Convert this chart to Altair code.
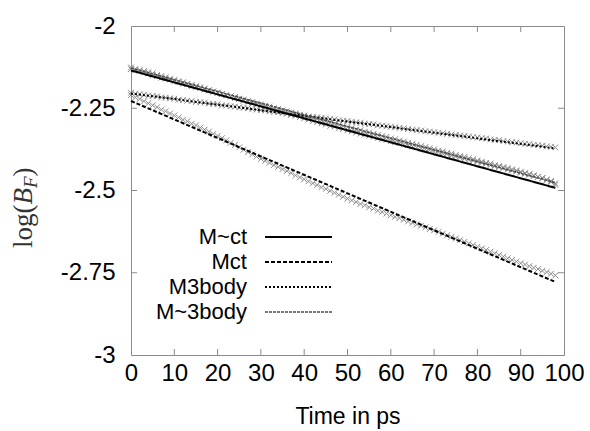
import altair as alt
import pandas as pd

# ---- data -------------------------------------------------------------
time_ps = list(range(99))

mtct_pts = [
    -2.131, -2.134, -2.136, -2.141, -2.143, -2.150, -2.152, -2.157, -2.160, -2.163,
    -2.168, -2.170, -2.175, -2.177, -2.183, -2.185, -2.188, -2.193, -2.196, -2.200,
    -2.203, -2.207, -2.210, -2.214, -2.216, -2.221, -2.224, -2.228, -2.231, -2.236,
    -2.238, -2.242, -2.245, -2.250, -2.252, -2.256, -2.259, -2.263, -2.266, -2.270,
    -2.273, -2.278, -2.280, -2.283, -2.288, -2.290, -2.294, -2.297, -2.301, -2.304,
    -2.308, -2.311, -2.315, -2.317, -2.322, -2.324, -2.328, -2.331, -2.335, -2.337,
    -2.342, -2.344, -2.349, -2.351, -2.355, -2.358, -2.361, -2.365, -2.368, -2.372,
    -2.375, -2.379, -2.381, -2.386, -2.388, -2.392, -2.395, -2.398, -2.402, -2.405,
    -2.409, -2.412, -2.416, -2.418, -2.423, -2.425, -2.429, -2.432, -2.436, -2.439,
    -2.443, -2.447, -2.450, -2.454, -2.458, -2.462, -2.468, -2.474, -2.483,
]

mct_pts = [
    -2.210, -2.217, -2.222, -2.229, -2.235, -2.241, -2.247, -2.254, -2.259, -2.266,
    -2.272, -2.278, -2.285, -2.290, -2.297, -2.302, -2.309, -2.315, -2.321, -2.328,
    -2.334, -2.341, -2.348, -2.355, -2.362, -2.369, -2.376, -2.383, -2.390, -2.397,
    -2.404, -2.410, -2.416, -2.423, -2.428, -2.435, -2.441, -2.447, -2.454, -2.460,
    -2.466, -2.472, -2.478, -2.483, -2.490, -2.495, -2.501, -2.507, -2.513, -2.519,
    -2.525, -2.530, -2.535, -2.541, -2.545, -2.551, -2.555, -2.561, -2.565, -2.570,
    -2.575, -2.580, -2.584, -2.589, -2.594, -2.598, -2.603, -2.607, -2.612, -2.617,
    -2.621, -2.626, -2.631, -2.636, -2.641, -2.646, -2.651, -2.656, -2.661, -2.666,
    -2.671, -2.676, -2.681, -2.686, -2.691, -2.696, -2.701, -2.706, -2.711, -2.716,
    -2.721, -2.725, -2.730, -2.735, -2.739, -2.744, -2.748, -2.753, -2.758,
]

m3body_pts = [
    -2.203, -2.206, -2.207, -2.209, -2.212, -2.213, -2.214, -2.217, -2.218, -2.220,
    -2.221, -2.224, -2.225, -2.227, -2.228, -2.231, -2.232, -2.233, -2.236, -2.237,
    -2.238, -2.241, -2.242, -2.244, -2.245, -2.247, -2.249, -2.250, -2.253, -2.254,
    -2.256, -2.257, -2.259, -2.261, -2.262, -2.265, -2.266, -2.267, -2.270, -2.271,
    -2.272, -2.275, -2.276, -2.278, -2.279, -2.281, -2.283, -2.284, -2.287, -2.288,
    -2.289, -2.291, -2.293, -2.294, -2.297, -2.298, -2.299, -2.302, -2.303, -2.305,
    -2.306, -2.308, -2.310, -2.311, -2.313, -2.315, -2.316, -2.318, -2.320, -2.321,
    -2.323, -2.325, -2.326, -2.328, -2.330, -2.331, -2.333, -2.334, -2.336, -2.338,
    -2.339, -2.341, -2.342, -2.345, -2.346, -2.347, -2.350, -2.351, -2.353, -2.354,
    -2.356, -2.358, -2.359, -2.361, -2.362, -2.364, -2.366, -2.367, -2.369,
]

mt3body_pts = [
    -2.126, -2.131, -2.134, -2.137, -2.141, -2.144, -2.149, -2.152, -2.156, -2.160,
    -2.164, -2.168, -2.171, -2.176, -2.179, -2.183, -2.187, -2.190, -2.195, -2.199,
    -2.203, -2.206, -2.211, -2.214, -2.219, -2.222, -2.227, -2.230, -2.235, -2.239,
    -2.243, -2.246, -2.251, -2.254, -2.259, -2.262, -2.266, -2.270, -2.273, -2.277,
    -2.281, -2.284, -2.289, -2.292, -2.296, -2.299, -2.304, -2.306, -2.311, -2.313,
    -2.317, -2.320, -2.324, -2.327, -2.330, -2.334, -2.337, -2.340, -2.344, -2.346,
    -2.350, -2.353, -2.356, -2.360, -2.362, -2.366, -2.369, -2.372, -2.375, -2.378,
    -2.382, -2.384, -2.388, -2.390, -2.394, -2.397, -2.400, -2.403, -2.407, -2.409,
    -2.413, -2.416, -2.419, -2.423, -2.426, -2.429, -2.432, -2.436, -2.439, -2.442,
    -2.446, -2.449, -2.452, -2.456, -2.459, -2.463, -2.467, -2.471, -2.478,
]

# straight-line fits, evaluated at the ends of the time range
fit_t = [0, 98]
fit_mtct = [-2.135, -2.492]
fit_mct = [-2.228, -2.778]
fit_m3body = [-2.205, -2.372]
fit_mt3body = [-2.128, -2.476]

series = ["M~ct", "Mct", "M3body", "M~3body"]
x_ticks = [0, 10, 20, 30, 40, 50, 60, 70, 80, 90, 100]
y_ticks = [-3, -2.75, -2.5, -2.25, -2]

# ---- styling ----------------------------------------------------------
W, H = 433, 329
SANS = "Liberation Sans"
SERIF = "Liberation Serif"
FRAME = "#8a8a8a"
MARK_GREY = "#8c8c8c"

line_style = {
    "M~ct":    dict(color="#000000", strokeWidth=2.0, dash=[1, 0]),
    "Mct":     dict(color="#000000", strokeWidth=2.0, dash=[4, 2]),
    "M3body":  dict(color="#000000", strokeWidth=2.0, dash=[2, 2]),
    "M~3body": dict(color="#4a4a4a", strokeWidth=1.5, dash=[3, 1]),
}

raw = {"M~ct": mtct_pts, "Mct": mct_pts, "M3body": m3body_pts, "M~3body": mt3body_pts}
fits = {"M~ct": fit_mtct, "Mct": fit_mct, "M3body": fit_m3body, "M~3body": fit_mt3body}

pts = pd.DataFrame(
    [{"series": s, "t": t, "v": v} for s in series for t, v in zip(time_ps, raw[s])]
)

x_scale = alt.Scale(domain=[0, 100], nice=False, zero=False)
y_scale = alt.Scale(domain=[-3, -2], nice=False, zero=False)

x_axis = alt.Axis(
    values=x_ticks, ticks=False, tickSize=0, domain=False, grid=False,
    labelFont=SANS, labelFontSize=24, labelColor="#000000", labelPadding=6,
    labelFlush=False, title="Time in ps", titleFont=SANS, titleFontSize=23,
    titleFontWeight="normal", titleColor="#000000", titlePadding=20,
)
y_axis = alt.Axis(
    values=y_ticks, ticks=False, tickSize=0, domain=False, grid=False,
    labelFont=SANS, labelFontSize=24, labelColor="#000000", labelPadding=16,
    labelFlush=False, labelExpr="toString(datum.value)", title=None,
)

# grey x markers for the sampled values
markers = alt.Chart(pts).mark_point(
    shape="M-1,-1L1,1M-1,1L1,-1", filled=False, size=34,
    strokeWidth=1, color=MARK_GREY, opacity=1,
).encode(
    x=alt.X("t:Q", scale=x_scale, axis=x_axis),
    y=alt.Y("v:Q", scale=y_scale, axis=y_axis),
    detail="series:N",
)

layers = [markers]

# fitted lines
for s in series:
    st = line_style[s]
    df = pd.DataFrame({"t": fit_t, "v": fits[s]})
    layers.append(
        alt.Chart(df).mark_line(
            color=st["color"], strokeWidth=st["strokeWidth"], strokeDash=st["dash"],
        ).encode(x=alt.X("t:Q", scale=x_scale), y=alt.Y("v:Q", scale=y_scale))
    )

# inward tick marks on all four sides
xt = pd.DataFrame({"t": x_ticks[1:-1]})
yt = pd.DataFrame({"v": y_ticks[1:-1]})
TL = 6
tick_style = dict(color=FRAME, strokeWidth=1)
layers += [
    alt.Chart(xt).mark_rule(**tick_style).encode(
        x=alt.X("t:Q", scale=x_scale), y=alt.value(H), y2=alt.value(H - TL)),
    alt.Chart(xt).mark_rule(**tick_style).encode(
        x=alt.X("t:Q", scale=x_scale), y=alt.value(0), y2=alt.value(TL)),
    alt.Chart(yt).mark_rule(**tick_style).encode(
        y=alt.Y("v:Q", scale=y_scale), x=alt.value(0), x2=alt.value(TL)),
    alt.Chart(yt).mark_rule(**tick_style).encode(
        y=alt.Y("v:Q", scale=y_scale), x=alt.value(W), x2=alt.value(W - TL)),
]

# key in the lower-left corner: label on the left, line sample on the right
for i, s in enumerate(series):
    st = line_style[s]
    row_y = 211 + 25 * i
    layers.append(
        alt.Chart(pd.DataFrame({"label": [s]})).mark_text(
            align="right", baseline="middle", font=SANS, fontSize=22, color="#000000",
        ).encode(x=alt.value(116), y=alt.value(row_y), text="label:N")
    )
    layers.append(
        alt.Chart(pd.DataFrame({"label": [s]})).mark_rule(
            color=st["color"], strokeWidth=st["strokeWidth"], strokeDash=st["dash"],
        ).encode(x=alt.value(134), x2=alt.value(201), y=alt.value(row_y))
    )

# y-axis title log(B_F), set piece by piece and rotated
ytitle = [
    ("log(", 222.0, -99, 27, "normal"),
    ("B", 178.5, -99, 27, "italic"),
    ("F", 162.0, -94, 19, "italic"),
    (")", 150.5, -99, 27, "normal"),
]
for txt, yy, xx, fs, style in ytitle:
    layers.append(
        alt.Chart(pd.DataFrame({"txt": [txt]})).mark_text(
            align="left", baseline="alphabetic", angle=270, font=SERIF,
            fontSize=fs, fontStyle=style, color="#333333",
        ).encode(x=alt.value(xx), y=alt.value(yy), text="txt:N")
    )

chart = alt.layer(*layers).properties(
    width=W, height=H,
    autosize=alt.AutoSizeParams(type="none"),
    padding={"left": 131, "top": 26, "right": 26, "bottom": 76},
    background="#ffffff",
).configure_view(stroke=FRAME, strokeWidth=1)

chart.save("out.html", embed_options={"renderer": "svg", "actions": False})
